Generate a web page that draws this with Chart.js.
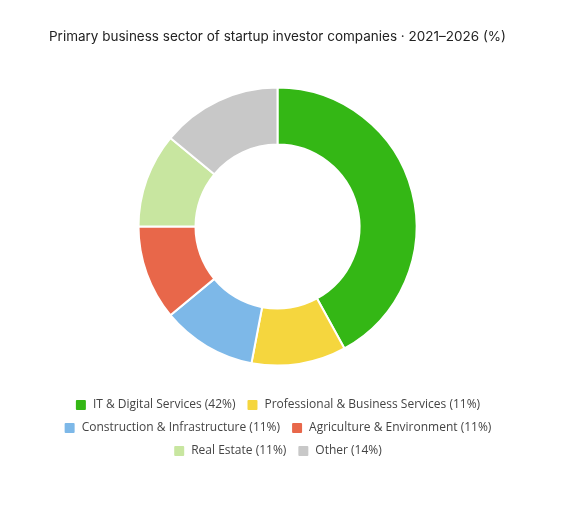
<!DOCTYPE html>
<html>
<head>
<meta charset="utf-8">
<script src="https://cdn.jsdelivr.net/npm/chart.js@4.4.1/dist/chart.umd.min.js"></script>
<style>
  html, body { margin: 0; padding: 0; background: #fff; }
  #wrap { position: relative; width: 563px; height: 510px; }
</style>
</head>
<body>
<div id="wrap"><canvas id="myChart"></canvas></div>
<script>
const sectors = ['IT & Digital Services', 'Professional & Business Services', 'Construction & Infrastructure', 'Agriculture & Environment', 'Real Estate', 'Other'];
const shares = [42, 11, 11, 11, 11, 14];
const sectorColors = ['#34b715', '#f5d63e', '#7db8e8', '#e8674a', '#c8e6a0', '#c8c8c8'];

const cht = document.getElementById('myChart');

const chart = new Chart(cht, {
    type: 'doughnut',
    data: {
        labels: sectors.map((s, i) => s + ' (' + shares[i] + '%)'),
        datasets: [{
            data: shares,
            backgroundColor: sectorColors,
            borderColor: '#ffffff',
            borderWidth: 2,
            hoverOffset: 0
        }]
    },
    options: {
        responsive: true,
        maintainAspectRatio: false,
        animation: false,
        radius: 139,
        cutout: '59%',
        layout: {
            padding: { top: 19, bottom: 43, left: 0, right: 8 }
        },
        plugins: {
            title: {
                display: true,
                text: 'Primary business sector of startup investor companies · 2021–2026 (%)',
                color: '#222',
                font: { family: 'Inter', size: 13.5, weight: 'normal' },
                padding: { top: 10, bottom: 20 }
            },
            legend: {
                position: 'bottom',
                labels: {
                    color: '#444',
                    font: { family: 'Open Sans', size: 12 },
                    boxWidth: 12,
                    boxHeight: 12,
                    useBorderRadius: true,
                    borderRadius: 2,
                    padding: 11
                }
            },
            tooltip: { enabled: false }
        }
    }
});
</script>
</body>
</html>
